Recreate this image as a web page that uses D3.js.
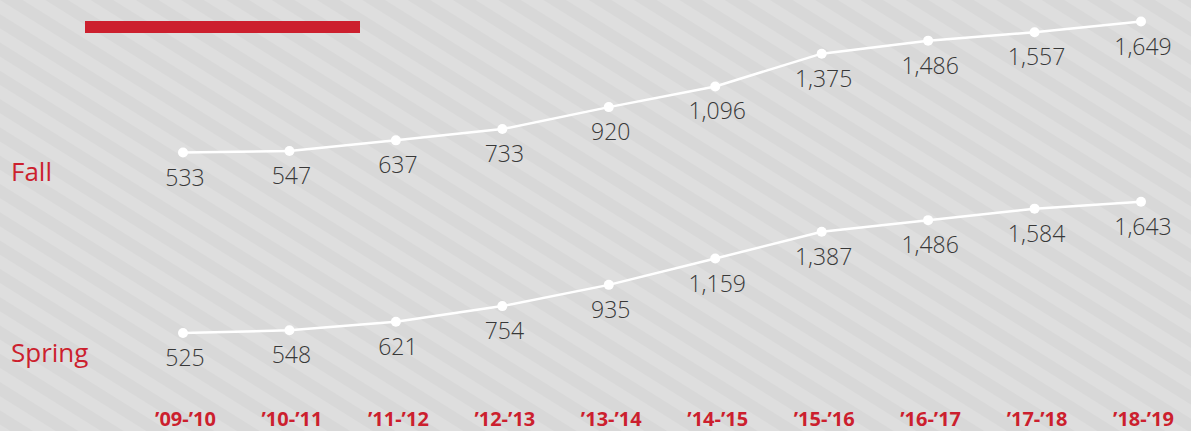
<!DOCTYPE html>
<html>
<head>
<meta charset="utf-8">
<script src="https://cdn.jsdelivr.net/npm/d3@7"></script>
<style>
  html, body { margin: 0; padding: 0; background: #dcdcdc; }
  svg { display: block; }
</style>
</head>
<body>
<svg id="chart" width="1191" height="431"></svg>
<script>
const categories = ["’09-’10", "’10-’11", "’11-’12", "’12-’13", "’13-’14", "’14-’15", "’15-’16", "’16-’17", "’17-’18", "’18-’19"];
const fallValues = [533, 547, 637, 733, 920, 1096, 1375, 1486, 1557, 1649];
const springValues = [525, 548, 621, 754, 935, 1159, 1387, 1486, 1584, 1643];
const seriesNames = ["Fall", "Spring"];

const W = 1191, H = 431;
const red = "#cc1f2e";
const svg = d3.select("#chart");

// striped background
const defs = svg.append("defs");
const pat = defs.append("pattern")
  .attr("id", "stripes")
  .attr("patternUnits", "userSpaceOnUse")
  .attr("width", 24).attr("height", 24)
  .attr("patternTransform", "rotate(32)");
pat.append("rect").attr("width", 24).attr("height", 24).attr("fill", "#dedede");
pat.append("rect").attr("y", 12).attr("width", 24).attr("height", 12).attr("fill", "#d8d8d8");
svg.append("rect").attr("width", W).attr("height", H).attr("fill", "url(#stripes)");

// red title bar
svg.append("rect").attr("x", 85).attr("y", 21).attr("width", 275).attr("height", 12).attr("fill", red);

const x = d3.scalePoint().domain(categories).range([183, 1141]);
const yDelta = d3.scaleLinear().domain([525, 1649]).range([0, -132]);
const rows = [
  { name: seriesNames[0], values: fallValues, base: 153.5, labelY: 181 },
  { name: seriesNames[1], values: springValues, base: 333, labelY: 362 }
];

const line = d3.line();

rows.forEach(r => {
  const pts = r.values.map((v, i) => [x(categories[i]), r.base + yDelta(v)]);
  const g = svg.append("g");
  g.append("path").attr("d", line(pts))
    .attr("fill", "none").attr("stroke", "#ffffff").attr("stroke-width", 2.5);
  g.selectAll("circle").data(pts).join("circle")
    .attr("cx", d => d[0]).attr("cy", d => d[1]).attr("r", 5)
    .attr("fill", "#ffffff");
  g.selectAll("text.val").data(r.values).join("text")
    .attr("class", "val")
    .attr("x", (d, i) => pts[i][0] + 2)
    .attr("y", (d, i) => pts[i][1] + 33)
    .attr("text-anchor", "middle")
    .attr("font-family", "'Open Sans', sans-serif")
    .attr("font-weight", 300)
    .attr("font-size", 23)
    .attr("fill", "#383838")
    .text(d => d3.format(",")(d));
  svg.append("text")
    .attr("x", 11).attr("y", r.labelY)
    .attr("font-family", "'Open Sans', sans-serif")
    .attr("font-size", 26)
    .attr("fill", red)
    .text(r.name);
});

// x axis labels
const xAxis = d3.axisBottom(x).tickSize(0).tickPadding(0);
const ax = svg.append("g").attr("transform", "translate(2,410)").call(xAxis);
ax.select(".domain").remove();
ax.selectAll("text")
  .attr("dy", 0).attr("y", 16)
  .attr("font-family", "'Open Sans', sans-serif")
  .attr("font-weight", 700)
  .attr("font-size", 20)
  .attr("fill", red);
</script>
</body>
</html>
